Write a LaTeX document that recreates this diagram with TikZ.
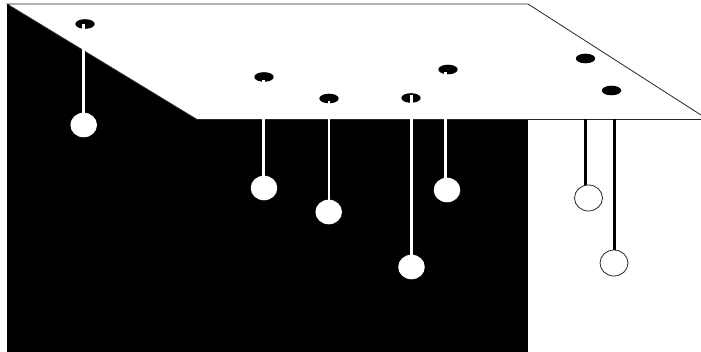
\documentclass[tikz,border=0pt]{standalone}
\usepackage{tikz}
\usetikzlibrary{calc}

\begin{document}
\begin{tikzpicture}[x=0.75pt,y=-0.75pt,line width=0.6pt]
  \clip (0,0) rectangle (701,352);
  \coordinate (BoxTL) at (7,4);
  \coordinate (BoxBR) at (528,352);
  \coordinate (PlA) at (7,4);
  \coordinate (PlB) at (528,4);
  \coordinate (PlC) at (708,119.5);
  \coordinate (PlD) at (197,119.5);
  % dark room and the ceiling over it
  \fill[black] (BoxTL) rectangle (BoxBR);
  \filldraw[fill=white,draw=black!85] (PlA)--(PlB)--(PlC)--(PlD)--cycle;
  % holes
  \foreach \name/\hx/\hy in {a/85/24,b/264/77,c/329/98.5,d/411/98,e/448/69.5,f/585.5/58.5,g/611.5/90.5}
    \fill (\hx,\hy) coordinate (H\name) ellipse (9.7 and 4.8);
  % rods in the dark part
  \coordinate (Ta) at (83.5,24);
  \coordinate (Tb) at (263.5,80);
  \coordinate (Tc) at (329,101);
  \coordinate (Td) at (411.3,95);
  \coordinate (Te) at (445.7,72);
  \coordinate (Ba) at (83.7,125);
  \coordinate (Bb) at (264,188);
  \coordinate (Bc) at (328.7,212);
  \coordinate (Bd) at (411.5,267);
  \coordinate (Be) at (447,190);
  \foreach \name in {a,b,c,d,e}{
    \draw[white,line width=1.9pt] (T\name)--(T\name |- B\name);
    \fill[white] (B\name) ellipse (13.3 and 12.3);
  }
  % rods in the light part
  \coordinate (Tf) at (585.5,119.5);
  \coordinate (Tg) at (614.5,119.5);
  \coordinate (Bf) at (588.5,198);
  \coordinate (Bg) at (614,263);
  \foreach \name in {f,g}{
    \draw[line width=2.2pt] (T\name)--(T\name |- B\name);
    \filldraw[fill=white,draw=black!85] (B\name) ellipse (14 and 13);
  }
\end{tikzpicture}
\end{document}
